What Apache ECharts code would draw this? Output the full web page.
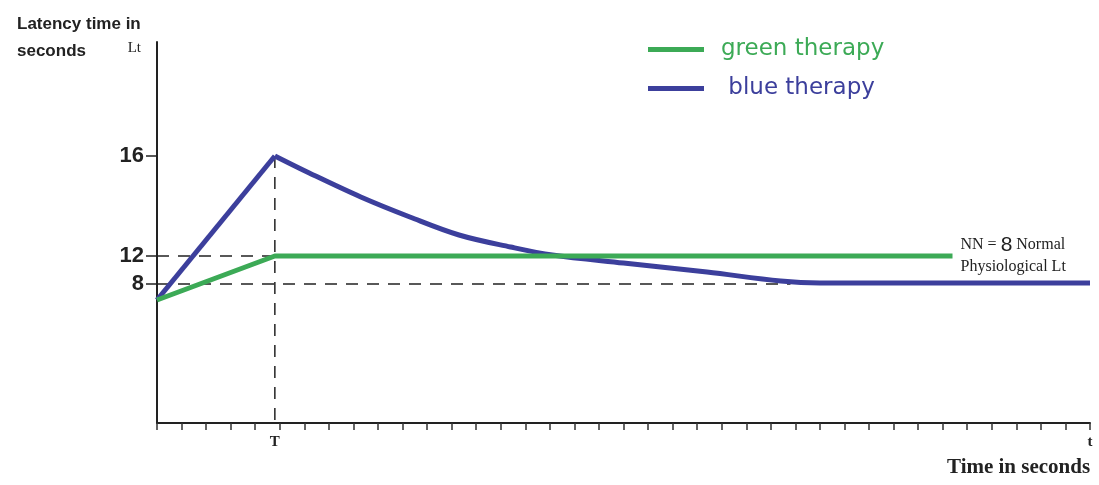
<!DOCTYPE html>
<html>
<head>
<meta charset="utf-8">
<title>Latency time</title>
<script src="https://cdn.jsdelivr.net/npm/echarts@6/dist/echarts.min.js"></script>
<style>
    html, body { margin: 0; padding: 0; background: #fff; }
    #chart { width: 1099px; height: 485px; }
</style>
</head>
<body>
<div id="chart"></div>
<script>
// x in arbitrary time steps, y in drawn "Lt" units (the picture's label spacing is not linear)
var xMax = 38;
var tMark = 4.8;
var yMin = 5.32;
var yMax = 20.56;

// y tick positions and the labels written next to them
var yTickValues = [16, 12, 10.88];
var yTickLabels = ['16', '12', '8'];

// x labels under the axis
var xLabelValues = [4.8, 38];
var xLabelTexts = ['T', 't'];

// green therapy: rises to 12 at T, then flat
var greenData = [[0, 10.24], [4.8, 12], [32.4, 12]];

// blue therapy: overshoots to 16 at T ...
var blueRise = [[0, 10.24], [4.8, 16]];
// ... then decays to the normal level
var blueDecay = [
    [4.8, 16], [6.2, 15.32], [8.3, 14.36], [10.3, 13.56],
    [12.3, 12.84], [14.4, 12.36], [16.1, 12.04], [19.0, 11.72],
    [22.4, 11.36], [25.4, 11.0], [27.0, 10.92], [38, 10.92]
];

// dashed guide lines
var dash12 = [[0, 12], [4.8, 12]];
var dash8 = [[0, 10.88], [25.8, 10.88]];
var dashT = [[4.8, 16], [4.8, 5.32]];

var green = '#3caa56';
var blue = '#3c3f9c';

var chart = echarts.init(document.getElementById('chart'));

function guide(data) {
    return {
        type: 'line',
        data: data,
        silent: true,
        symbol: 'none',
        z: 1,
        lineStyle: {color: '#222', width: 1.5, type: [12, 9]}
    };
}

var option = {
    animation: false,
    backgroundColor: '#fff',
    title: {
        text: 'Latency time in\nseconds',
        left: 12,
        top: 6,
        textStyle: {
            fontFamily: 'Liberation Sans',
            fontSize: 17,
            fontWeight: 'bold',
            lineHeight: 27,
            color: '#222'
        }
    },
    legend: {
        orient: 'vertical',
        left: 643,
        top: 33,
        itemWidth: 56,
        itemHeight: 5,
        itemGap: 16,
        icon: 'rect',
        data: [
            {name: 'green therapy', textStyle: {color: green}},
            {name: ' blue therapy', textStyle: {color: blue}}
        ],
        textStyle: {fontFamily: 'DejaVu Sans', fontSize: 23, padding: [0, 0, 0, 12]}
    },
    grid: {left: 157, right: 9, top: 42, bottom: 62},
    xAxis: {
        type: 'value',
        min: 0,
        max: xMax,
        interval: 1,
        splitLine: {show: false},
        axisLine: {lineStyle: {color: '#222', width: 2}},
        axisTick: {show: true, length: 7, lineStyle: {color: '#333', width: 1.5}},
        axisLabel: {
            customValues: xLabelValues,
            margin: 12,
            fontFamily: 'Liberation Serif',
            fontWeight: 'bold',
            fontSize: 15,
            color: '#222',
            formatter: function (v) {
                var i = xLabelValues.indexOf(v);
                return i >= 0 ? xLabelTexts[i] : '';
            }
        }
    },
    yAxis: {
        type: 'value',
        min: yMin,
        max: yMax,
        name: 'Lt',
        nameLocation: 'end',
        nameGap: -6,
        nameTextStyle: {
            fontFamily: 'Liberation Serif',
            fontSize: 15,
            color: '#222',
            align: 'right',
            verticalAlign: 'middle',
            padding: [0, 16, 0, 0]
        },
        splitLine: {show: false},
        axisLine: {show: true, lineStyle: {color: '#222', width: 2}},
        axisTick: {show: true, customValues: yTickValues, length: 11, lineStyle: {color: '#222', width: 1.5}},
        axisLabel: {
            customValues: yTickValues,
            margin: 13,
            fontFamily: 'Liberation Sans',
            fontWeight: 'bold',
            fontSize: 22,
            color: '#222',
            formatter: function (v) {
                var i = yTickValues.indexOf(v);
                return i >= 0 ? yTickLabels[i] : '';
            }
        }
    },
    graphic: [{
        type: 'text',
        left: 947,
        top: 457,
        style: {
            text: 'Time in seconds',
            font: 'bold 21px "Liberation Serif"',
            fill: '#222'
        }
    }],
    series: [
        guide(dash12),
        guide(dash8),
        guide(dashT),
        {
            name: 'green therapy',
            type: 'line',
            data: greenData,
            symbol: 'none',
            z: 3,
            lineStyle: {color: green, width: 5},
            itemStyle: {color: green},
            endLabel: {
                show: true,
                distance: 8,
                formatter: '{s|NN = }{b|8}{s| Normal}\n{s|Physiological Lt}',
                rich: {
                    s: {fontFamily: 'Liberation Serif', fontSize: 16, color: '#222', lineHeight: 22},
                    b: {fontFamily: 'Liberation Sans', fontSize: 21, color: '#222', lineHeight: 22}
                }
            }
        },
        {
            name: ' blue therapy',
            type: 'line',
            data: blueRise,
            symbol: 'none',
            z: 2,
            lineStyle: {color: blue, width: 5, join: 'round'},
            itemStyle: {color: blue}
        },
        {
            name: 'blue therapy decay',
            type: 'line',
            data: blueDecay,
            symbol: 'none',
            smooth: 0.35,
            z: 2,
            lineStyle: {color: blue, width: 5, join: 'round'},
            itemStyle: {color: blue}
        }
    ]
};

chart.setOption(option);
</script>
</body>
</html>
